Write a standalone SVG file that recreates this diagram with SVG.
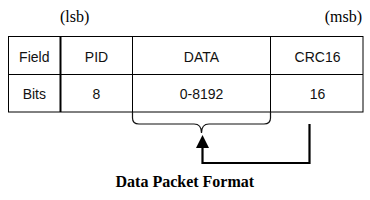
<svg xmlns="http://www.w3.org/2000/svg" width="370" height="200" viewBox="0 0 370 200">
<style>
.cell{font-family:"Liberation Sans",Arial,sans-serif;font-size:14px;fill:#111;text-anchor:middle}
.note{font-family:"Liberation Serif","Times New Roman",serif;font-size:16px;fill:#000}
.title{font-family:"Liberation Serif","Times New Roman",serif;font-size:16px;font-weight:bold;fill:#000}
.grid{stroke:#000;stroke-width:1;fill:none}
</style>
<defs>
<marker id="arr" viewBox="0 0 13 13" refX="0" refY="6.5" markerWidth="13" markerHeight="13" markerUnits="userSpaceOnUse" orient="auto">
<path d="M0,0 L13,6.5 L0,13 z" fill="#000"/>
</marker>
</defs>
<g id="lsb-label"><text class="note" x="60" y="22">(lsb)</text></g>
<g id="msb-label"><text class="note" x="362" y="22" text-anchor="end">(msb)</text></g>
<g id="table">
<rect class="grid" x="8.5" y="36.5" width="354.5" height="75.5"/>
<line class="grid" x1="8.5" y1="74.5" x2="363" y2="74.5"/>
<line x1="60.5" y1="36" x2="60.5" y2="112" stroke="#000" stroke-width="2"/>
<line class="grid" x1="132.5" y1="36" x2="132.5" y2="112"/>
<line class="grid" x1="270.5" y1="36" x2="270.5" y2="112"/>
</g>
<g id="field-cell"><text class="cell" x="34.3" y="61.5">Field</text><text class="cell" x="34.3" y="99">Bits</text></g>
<g id="pid-cell"><text class="cell" x="96.5" y="61.5">PID</text><text class="cell" x="96.5" y="99">8</text></g>
<g id="data-cell"><text class="cell" x="201.5" y="61.5">DATA</text><text class="cell" x="201.5" y="99">0-8192</text></g>
<g id="crc-cell"><text class="cell" x="317.5" y="61.5">CRC16</text><text class="cell" x="317.5" y="99">16</text></g>
<g id="brace">
<path d="M132.5,112 L132.5,118 Q132.5,124 139,124 L194,124 Q201.5,124 201.5,133 Q201.5,124 209,124 L264,124 Q270.5,124 270.5,118 L270.5,112" fill="none" stroke="#111" stroke-width="1.2"/>
</g>
<g id="connectors">
<path d="M309.5,124 L309.5,163 L202.5,163 L202.5,148" fill="none" stroke="#000" stroke-width="2.2" marker-end="url(#arr)"/>
</g>
<g id="caption"><text class="title" x="115.5" y="187">Data Packet Format</text></g>
</svg>
